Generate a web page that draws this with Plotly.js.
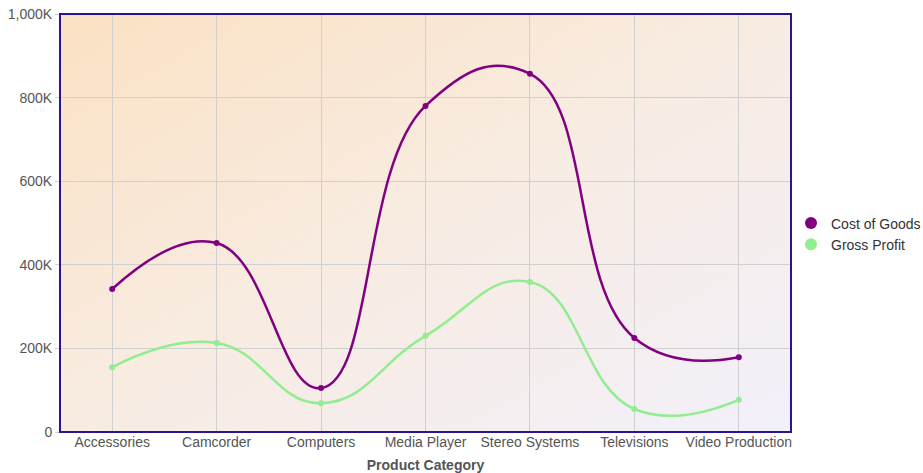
<!DOCTYPE html>
<html>
<head>
<meta charset="utf-8">
<script src="https://cdn.plot.ly/plotly-3.0.1.min.js"></script>
<style>
  html, body { margin: 0; padding: 0; background: #ffffff; }
  #chart { width: 923px; height: 473px; }
</style>
</head>
<body>
<div id="chart"></div>
<script>
const categories = ["Accessories", "Camcorder", "Computers", "Media Player", "Stereo Systems", "Televisions", "Video Production"];
const costOfGoods = [342000, 452000, 105000, 780000, 857000, 225000, 179000];
const grossProfit = [155000, 213000, 69000, 230000, 359000, 55000, 77000];
const yTickVals = [0, 200000, 400000, 600000, 800000, 1000000];
const yTickText = ["0", "200K", "400K", "600K", "800K", "1,000K"];

const purple = "#800080";
const green = "#90ee90";
const fontFamily = "Arial, 'Liberation Sans', sans-serif";

const gradSvg = '<svg xmlns="http://www.w3.org/2000/svg" width="100" height="100" preserveAspectRatio="none">' +
  '<defs><linearGradient id="g" x1="0" y1="0" x2="1" y2="1">' +
  '<stop offset="0" stop-color="#fbe1c3"/>' +
  '<stop offset="0.5" stop-color="#f8ece2"/>' +
  '<stop offset="1" stop-color="#f2f0fb"/>' +
  '</linearGradient></defs><rect width="100" height="100" fill="url(#g)"/></svg>';
const gradUri = "data:image/svg+xml;base64," + btoa(gradSvg);

function lineTrace(name, values, color) {
  return {
    type: "scatter", mode: "lines+markers", name: name,
    x: categories, y: values,
    line: { color: color, width: 2.5, shape: "spline", smoothing: 1.3 },
    marker: { color: color, size: 6 },
    showlegend: false, hoverinfo: "x+y+name"
  };
}
function legendTrace(name, color) {
  return {
    type: "scatter", mode: "markers", name: name,
    x: [null], y: [null],
    marker: { color: color, size: 12 },
    showlegend: true, hoverinfo: "skip"
  };
}

const data = [
  lineTrace("Cost of Goods", costOfGoods, purple),
  lineTrace("Gross Profit", grossProfit, green),
  legendTrace("Cost of Goods", purple),
  legendTrace("Gross Profit", green)
];

const layout = {
  width: 923, height: 473,
  margin: { l: 60, r: 130, t: 14, b: 41, pad: 0 },
  paper_bgcolor: "#ffffff",
  plot_bgcolor: "rgba(0,0,0,0)",
  font: { family: fontFamily, size: 14, color: "#555555" },
  showlegend: true,
  legend: {
    xref: "container", yref: "container",
    x: 791 / 923, xanchor: "left", y: 1 - 234 / 473, yanchor: "middle",
    font: { family: fontFamily, size: 14, color: "#333333" },
    bgcolor: "rgba(0,0,0,0)", tracegroupgap: 0, itemsizing: "constant"
  },
  xaxis: {
    type: "category", range: [-0.5, 6.5],
    showgrid: true, gridcolor: "#d0d0d0", gridwidth: 1,
    ticks: "", tickfont: { family: fontFamily, size: 14, color: "#555555" },
    zeroline: false, showline: false, fixedrange: true, automargin: false,
    title: { text: "Product Category", font: { family: fontFamily, size: 14, color: "#555555", weight: "bold" }, standoff: 12 }
  },
  yaxis: {
    range: [0, 1000000],
    tickvals: yTickVals, ticktext: yTickText,
    showgrid: true, gridcolor: "#d0d0d0", gridwidth: 1,
    ticks: "outside", ticklen: 4, tickcolor: "#d0d0d0",
    tickfont: { family: fontFamily, size: 14, color: "#555555" },
    zeroline: false, showline: false, fixedrange: true, automargin: false
  },
  images: [{
    source: gradUri, xref: "paper", yref: "paper",
    x: 0, y: 1, sizex: 1, sizey: 1, sizing: "stretch",
    xanchor: "left", yanchor: "top", layer: "below"
  }],
  shapes: [{
    type: "rect", xref: "paper", yref: "paper",
    x0: 0, x1: 1, y0: 0, y1: 1,
    line: { color: "#2b1393", width: 2 }, layer: "above"
  }]
};

Plotly.newPlot("chart", data, layout, { displayModeBar: false, staticPlot: true });
</script>
</body>
</html>
